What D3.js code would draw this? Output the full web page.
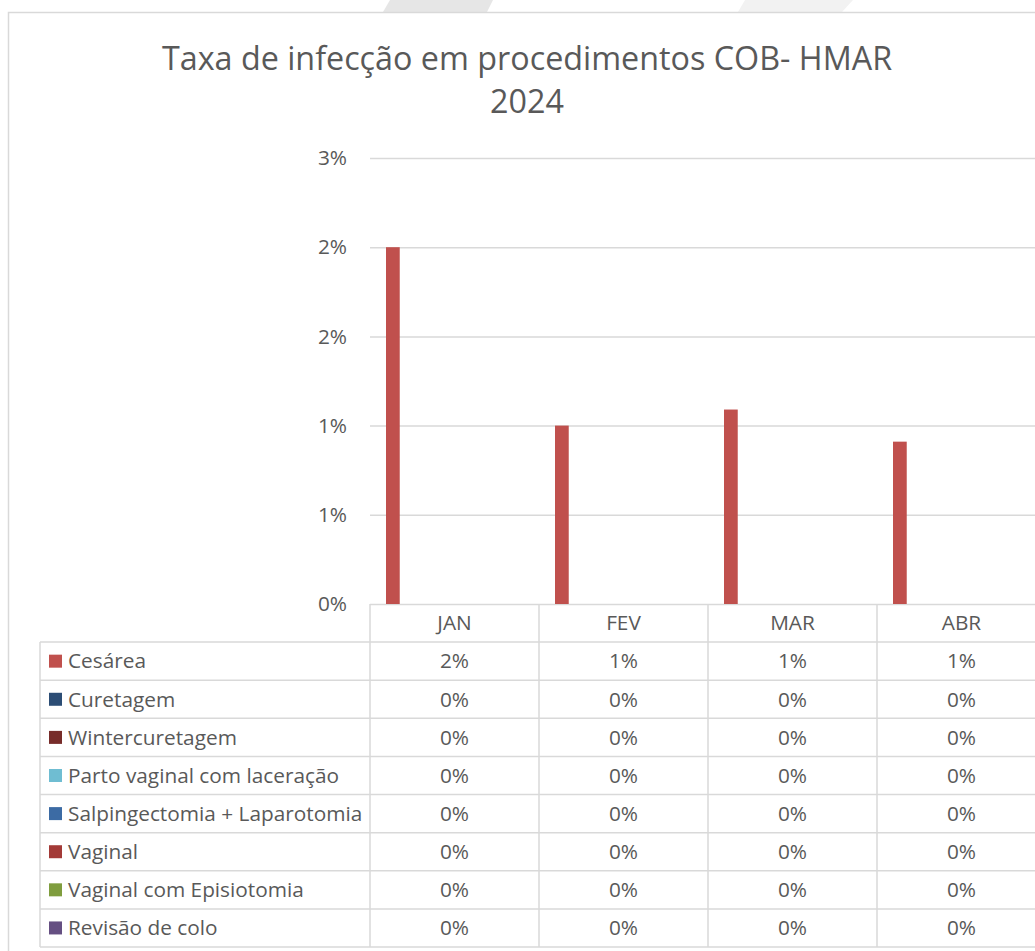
<!DOCTYPE html>
<html>
<head>
<meta charset="utf-8">
<script src="https://cdn.jsdelivr.net/npm/d3@7"></script>
<style>
  html, body { margin: 0; padding: 0; background: #fff; overflow: hidden; }
  svg { display: block; font-family: "Open Sans", sans-serif; }
  .txt { fill: #595959; }
</style>
</head>
<body>
<svg id="chart" width="1035" height="951"></svg>
<script>
// --- Dados ---
const months = ['JAN', 'FEV', 'MAR', 'ABR'];
const seriesNames = [
  'Cesárea',
  'Curetagem',
  'Wintercuretagem',
  'Parto vaginal com laceração',
  'Salpingectomia + Laparotomia',
  'Vaginal',
  'Vaginal com Episiotomia',
  'Revisão de colo'
];
const seriesColors = ['#c0504d', '#2c4d75', '#772c2a', '#6fbdd2', '#3c6ba4', '#a33a37', '#7f9d3e', '#654f82'];
const cesarea = [0.020, 0.010, 0.0109, 0.0091];
const curetagem = [0, 0, 0, 0];
const wintercuretagem = [0, 0, 0, 0];
const partoLaceracao = [0, 0, 0, 0];
const salpingectomia = [0, 0, 0, 0];
const vaginal = [0, 0, 0, 0];
const vaginalEpisiotomia = [0, 0, 0, 0];
const revisaoColo = [0, 0, 0, 0];
const yTicks = [0, 0.005, 0.01, 0.015, 0.02, 0.025];
const titleLines = ['Taxa de infecção em procedimentos COB- HMAR', '2024'];

const seriesValues = [cesarea, curetagem, wintercuretagem, partoLaceracao,
  salpingectomia, vaginal, vaginalEpisiotomia, revisaoColo];

const svg = d3.select('#chart');
const fmt = d3.format('.0%');
const fs = 20.8; // tamanho do texto da tabela e eixos

// --- Decoração do fundo e moldura ---
svg.append('path').attr('d', 'M390,0 L493,0 L487,12 L383,12 Z').attr('fill', '#e6e6e6');
svg.append('path').attr('d', 'M745,0 L853,0 L842,12 L738,12 Z').attr('fill', '#f2f2f2');
svg.append('rect')
  .attr('x', 8.5).attr('y', 12.5)
  .attr('width', 1100).attr('height', 1000)
  .attr('fill', '#fff')
  .attr('stroke', '#d9d9d9').attr('stroke-width', 1.5);

// --- Título ---
svg.append('text')
  .attr('class', 'txt')
  .attr('x', 527).attr('y', 70)
  .attr('text-anchor', 'middle')
  .attr('font-size', 32.3)
  .selectAll('tspan')
  .data(titleLines)
  .enter().append('tspan')
  .attr('x', 527)
  .attr('dy', (d, i) => i === 0 ? 0 : 43)
  .text(d => d);

// --- Escalas ---
const colW = 169;
const left = 370;
const x = d3.scaleBand().domain(months).range([left, left + colW * months.length]).padding(0);
const x1 = d3.scaleBand().domain(seriesNames).range([16, colW - 16]).paddingInner(0.22);
const y = d3.scaleLinear().domain([0, 0.025]).range([604, 158]);

// --- Eixo Y e grade ---
const yAxis = svg.append('g')
  .attr('transform', `translate(${left},0)`)
  .call(d3.axisLeft(y).tickValues(yTicks).tickFormat(fmt)
    .tickSize(-(colW * months.length)).tickPadding(23));
yAxis.select('.domain').remove();
yAxis.selectAll('.tick line').attr('stroke', '#d9d9d9').attr('stroke-width', 1.5);
yAxis.selectAll('.tick text')
  .attr('fill', '#595959')
  .attr('font-size', fs)
  .attr('font-family', '"Open Sans", sans-serif');

// --- Barras ---
const groups = svg.append('g').selectAll('g')
  .data(months)
  .enter().append('g')
  .attr('transform', d => `translate(${x(d)},0)`);

groups.selectAll('rect')
  .data((m, mi) => seriesNames.map((s, si) => ({ s, v: seriesValues[si][mi], c: seriesColors[si] })))
  .enter().append('rect')
  .attr('x', d => x1(d.s))
  .attr('width', x1.bandwidth())
  .attr('y', d => y(d.v))
  .attr('height', d => y(0) - y(d.v))
  .attr('fill', d => d.c);

// --- Tabela de dados ---
const rows = d3.scaleBand().domain(['header', ...seriesNames]).range([604, 947]);
const tableLeft = 40;
const tableRight = 1100;
const table = svg.append('g');
const lineColor = '#d9d9d9';

// linhas horizontais
table.selectAll('line.h')
  .data(seriesNames)
  .enter().append('line')
  .attr('x1', tableLeft).attr('x2', tableRight)
  .attr('y1', d => rows(d)).attr('y2', d => rows(d))
  .attr('stroke', lineColor).attr('stroke-width', 1.5);
table.append('line')
  .attr('x1', tableLeft).attr('x2', tableRight)
  .attr('y1', rows.range()[1]).attr('y2', rows.range()[1])
  .attr('stroke', lineColor).attr('stroke-width', 1.5);
// linhas verticais
table.selectAll('line.v')
  .data(months)
  .enter().append('line')
  .attr('x1', d => x(d)).attr('x2', d => x(d))
  .attr('y1', rows('header')).attr('y2', rows.range()[1])
  .attr('stroke', lineColor).attr('stroke-width', 1.5);
table.append('line')
  .attr('x1', tableLeft).attr('x2', tableLeft)
  .attr('y1', rows(seriesNames[0])).attr('y2', rows.range()[1])
  .attr('stroke', lineColor).attr('stroke-width', 1.5);

// cabeçalho dos meses
table.selectAll('text.month')
  .data(months)
  .enter().append('text')
  .attr('class', 'txt')
  .attr('x', d => x(d) + x.bandwidth() / 2)
  .attr('y', rows('header') + rows.bandwidth() / 2)
  .attr('dy', '0.35em')
  .attr('text-anchor', 'middle')
  .attr('font-size', fs)
  .text(d => d);

// rótulos das séries com chave de legenda
const labels = table.selectAll('g.lbl')
  .data(seriesNames)
  .enter().append('g')
  .attr('transform', d => `translate(0,${rows(d) + rows.bandwidth() / 2})`);
labels.append('rect')
  .attr('x', 49).attr('y', -6.5)
  .attr('width', 13).attr('height', 13)
  .attr('fill', (d, i) => seriesColors[i]);
labels.append('text')
  .attr('class', 'txt')
  .attr('x', 68)
  .attr('dy', '0.35em')
  .attr('font-size', fs)
  .text(d => d);

// valores
seriesNames.forEach((s, si) => {
  table.selectAll(null)
    .data(months)
    .enter().append('text')
    .attr('class', 'txt')
    .attr('x', d => x(d) + x.bandwidth() / 2)
    .attr('y', rows(s) + rows.bandwidth() / 2)
    .attr('dy', '0.35em')
    .attr('text-anchor', 'middle')
    .attr('font-size', fs)
    .text((d, mi) => fmt(seriesValues[si][mi]));
});
</script>
</body>
</html>
